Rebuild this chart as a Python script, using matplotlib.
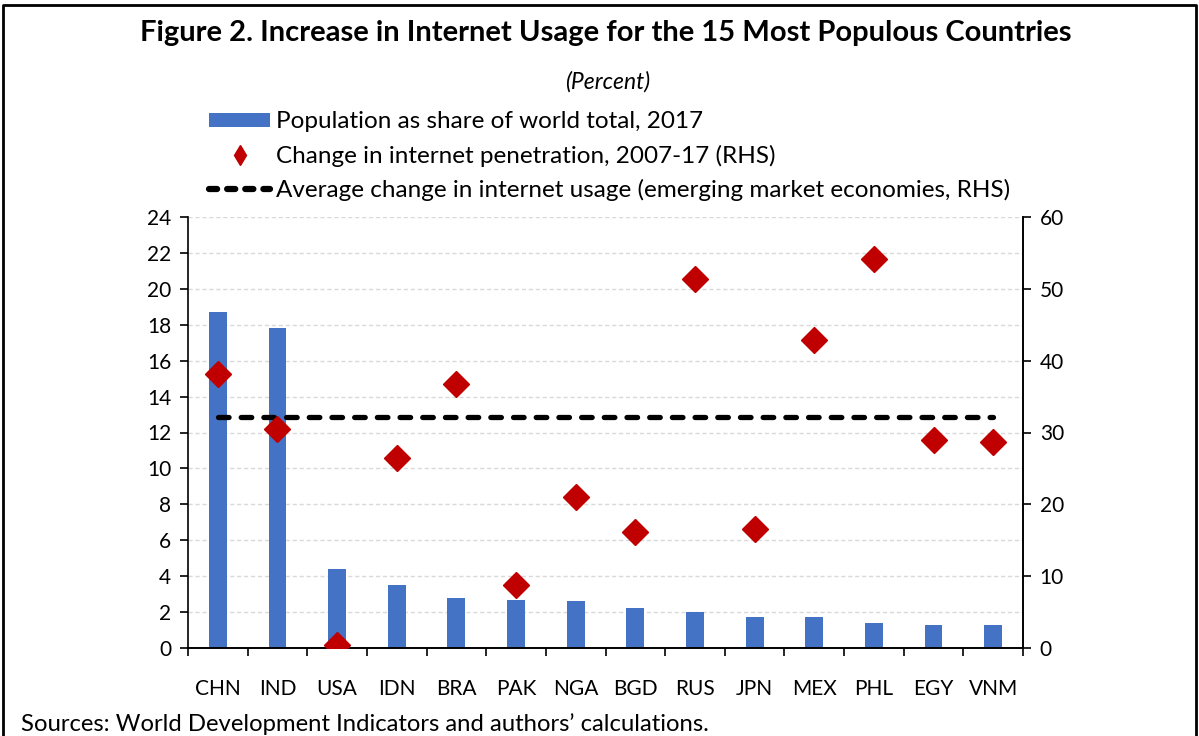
import matplotlib.pyplot as plt
from matplotlib.lines import Line2D
from matplotlib.patches import Patch

plt.rcParams['font.family'] = ['Lato', 'DejaVu Sans']

# Data
countries = ['CHN', 'IND', 'USA', 'IDN', 'BRA', 'PAK', 'NGA',
             'BGD', 'RUS', 'JPN', 'MEX', 'PHL', 'EGY', 'VNM']
population_share = [18.7, 17.8, 4.4, 3.5, 2.8, 2.7, 2.6,
                    2.2, 2.0, 1.7, 1.7, 1.4, 1.3, 1.3]
internet_change = [38.2, 30.5, 0.4, 26.4, 36.7, 8.8, 21.0,
                   16.2, 51.4, 16.6, 42.9, 54.2, 28.9, 28.7]
em_average = 32.1

bar_color = '#4472C4'
dot_color = '#C00000'

fig = plt.figure(figsize=(11.99, 7.36), dpi=100)
ax = fig.add_axes([188 / 1199, 1 - 648 / 736, (1023 - 188) / 1199, (648 - 217) / 736])
ax2 = ax.twinx()

x = list(range(len(countries)))
ax.bar(x, population_share, width=0.3, color=bar_color, zorder=2)
ax2.plot(x, [em_average] * len(x), color='black', linestyle=(0, (2.0, 2.3)),
         linewidth=3.8, dash_capstyle='round', zorder=3)
ax2.plot(x, internet_change, linestyle='none', marker='D', markersize=13.5,
         color=dot_color, zorder=4)

ax.set_xlim(-0.5, len(countries) - 0.5)
ax.set_ylim(0, 24)
ax2.set_ylim(0, 60)
ax.set_yticks(range(0, 25, 2))
ax2.set_yticks(range(0, 61, 10))

ax.grid(axis='y', color='#d9d9d9', linestyle=(0, (3, 2)), linewidth=1, zorder=0)
ax.set_axisbelow(True)

# category ticks at boundaries
ax.set_xticks([i - 0.5 for i in range(len(countries) + 1)])
ax.set_xticklabels([])
ax.set_xticks(x, minor=True)
ax.set_xticklabels(countries, minor=True, fontsize=15)
ax.tick_params(axis='x', which='minor', length=0, pad=22)
ax.tick_params(axis='x', which='major', length=6, width=1.2, direction='out')
ax.tick_params(axis='y', labelsize=15, length=6, width=1.2, pad=6)
ax2.tick_params(axis='y', labelsize=15, length=6, width=1.2, pad=6)

for a in (ax, ax2):
    a.spines['top'].set_visible(False)
    a.spines['left'].set_linewidth(1.2)
    a.spines['right'].set_linewidth(1.2)
    a.spines['bottom'].set_linewidth(1.2)
ax2.spines['left'].set_visible(False)

fig.text(0.505, 1 - 33 / 736, 'Figure 2. Increase in Internet Usage for the 15 Most Populous Countries',
         ha='center', va='center', fontsize=21, fontweight='bold')
fig.text(0.507, 1 - 82 / 736, '(Percent)', ha='center', va='center', fontsize=16.5, style='italic')
fig.text(21 / 1199, 1 - 724 / 736, 'Sources: World Development Indicators and authors\u2019 calculations.',
         ha='left', va='center', fontsize=17.2)

handles = [
    Patch(facecolor=bar_color, edgecolor='none'),
    Line2D([], [], linestyle='none', marker='d', markersize=10, color=dot_color),
    Line2D([], [], color='black', linestyle=(0, (1.3, 1.6)), linewidth=4.5, dash_capstyle='round'),
]
labels = [
    'Population as share of world total, 2017',
    'Change in internet penetration, 2007-17 (RHS)',
    'Average change in internet usage (emerging market economies, RHS)',
]
fig.legend(handles, labels, loc='center left', bbox_to_anchor=(197 / 1199, 1 - 156 / 736),
           frameon=False, fontsize=17.5, handlelength=2.5, handleheight=0.5,
           handletextpad=0.25, labelspacing=0.5, borderpad=0)

# frame around the figure (left, top, right)
fig.add_artist(Line2D([3 / 1199, 3 / 1199, 1196 / 1199, 1196 / 1199], [0, 1 - 5 / 736, 1 - 5 / 736, 0],
                      transform=fig.transFigure, color='black', linewidth=2))

fig.savefig('out.png', dpi=100)
